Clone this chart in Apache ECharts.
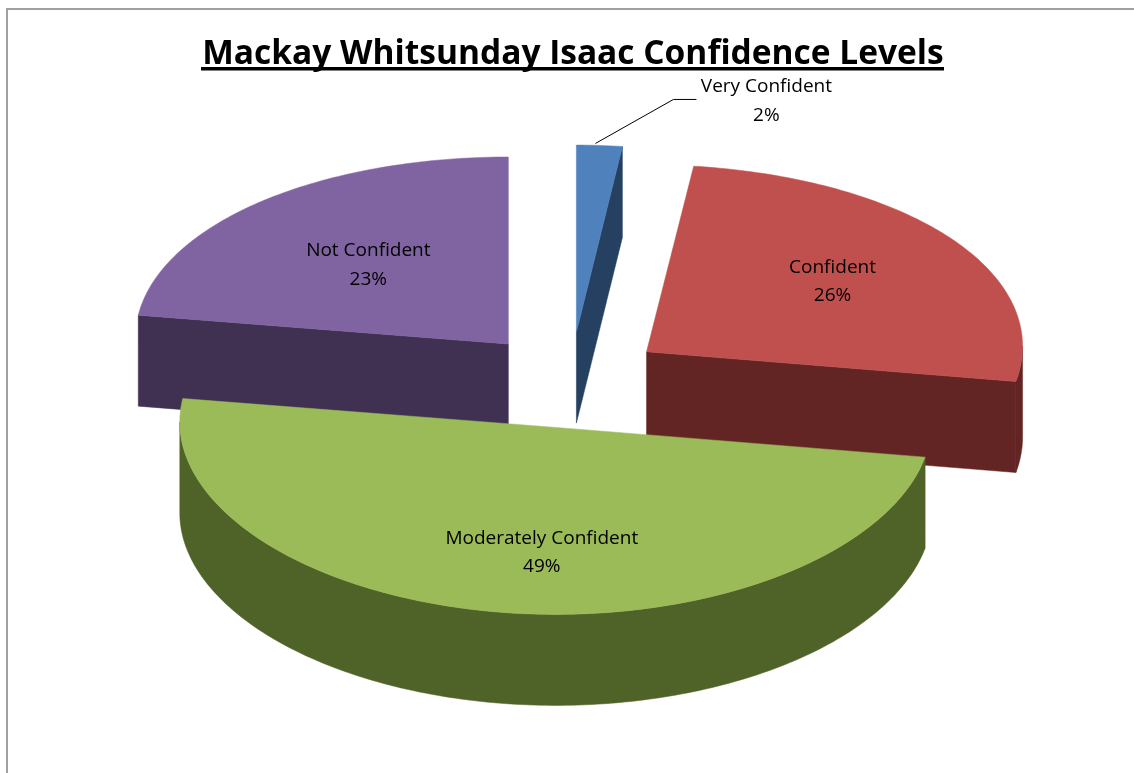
<!DOCTYPE html>
<html><head><meta charset="utf-8">
<style>html,body{margin:0;padding:0;background:#fff}#c{width:1134px;height:773px}</style>
<script src="https://cdn.jsdelivr.net/npm/echarts@6/dist/echarts.min.js"></script>
</head><body><div id="c"></div>
<script>
const categories = ['Very Confident','Confident','Moderately Confident','Not Confident'];
const values = [2,26,49,23];
const topColors = ['#4F81BD','#C0504D','#9BBB59','#8064A2'];
const sideColors = ['#254061','#632523','#4F6228','#403152'];
const drawOrder = [3,0,1,2];
const titleText = 'Mackay Whitsunday Isaac Confidence Levels';

// Projection of the tilted pie
const pie = {cx:570.5, cy:380, ry:187, depth:91, ex:94, ey:48, lift:5.5};
const sliceRx = [367,376,376,373];
// Label placement relative to each slice's apex
const labelNudge = [[190,-231],[186,-70],[-14,125],[-140,-79]];
const font = '"Open Sans", Lato, sans-serif';

const total = values.reduce((a,b)=>a+b,0);
const cum = []; values.reduce((a,b,i)=>(cum[i]=a,a+b),0);
const DEG = Math.PI/180;

function build(i){
  const a0 = cum[i]/total*2*Math.PI, a1 = (cum[i]+values[i])/total*2*Math.PI, mid=(a0+a1)/2;
  const ax = pie.cx + pie.ex*Math.sin(mid), ay = pie.cy - pie.ey*Math.cos(mid);
  const rx = sliceRx[i];
  const P = (t,d)=>[ax+rx*Math.sin(t), ay-pie.ry*Math.cos(t)-pie.lift*Math.sin(t)*Math.sin(t)+(d||0)];
  const arc = (s,e,d)=>{const n=Math.max(2,Math.ceil((e-s)/DEG)),r=[];for(let k=0;k<=n;k++)r.push(P(s+(e-s)*k/n,d));return r;};
  const ch = [];
  const poly = (pts,fill)=>ch.push({type:'polygon',shape:{points:pts},style:{fill,stroke:fill,lineWidth:.5}});
  const side = sideColors[i];
  // Radial cut faces that look towards the viewer
  if (a0>Math.PI && a0<2*Math.PI) poly([[ax,ay],P(a0),P(a0,pie.depth),[ax,ay+pie.depth]],side);
  if (a1>0 && a1<Math.PI) poly([[ax,ay],P(a1),P(a1,pie.depth),[ax,ay+pie.depth]],side);
  // Outer wall: the part of the rim on the near side
  const s=Math.max(a0,Math.PI/2), e=Math.min(a1,Math.PI*1.5);
  if (e>s) poly(arc(s,e,0).concat(arc(s,e,pie.depth).reverse()),side);
  // Top face
  poly([[ax,ay]].concat(arc(a0,a1,0)),topColors[i]);
  // Label
  const n = labelNudge[i], lx=ax+n[0], ly=ay+n[1];
  ch.push({type:'text',z2:10,style:{text:categories[i]+'\n'+values[i]+'%',x:lx,y:ly,align:'center',verticalAlign:'middle',
    fill:'#000',font:'19px '+font,lineHeight:28.5}});
  // Leader for the thin slice
  if (values[i]<5){
    const q=P(mid);
    ch.push({type:'polyline',z2:10,shape:{points:[[q[0]-4,q[1]-2],[q[0]+74,q[1]-46],[q[0]+97,q[1]-46]]},style:{fill:null,stroke:'#000',lineWidth:1}});
  }
  return {type:'group',children:ch};
}

const chart = echarts.init(document.getElementById('c'),null,{renderer:'canvas'});
chart.setOption({
  animation:false,
  backgroundColor:'#fff',
  title:{text:titleText,left:568,textAlign:'center',top:32,textStyle:{fontFamily:font,fontWeight:'bold',fontSize:33.5,color:'#000'}},
  graphic:[
    {type:'rect',silent:true,z:-1,shape:{x:7,y:9,width:1300,height:900},style:{fill:'none',stroke:'#a0a0a0',lineWidth:2}},
    {type:'rect',silent:true,shape:{x:201,y:67,width:743,height:3.5},style:{fill:'#000'}}
  ],
  series: drawOrder.map((i,z)=>({
    type:'custom',coordinateSystem:'none',z:z+2,silent:true,
    data:[[values[i]]],
    renderItem:()=>build(i)
  }))
});
</script></body></html>
